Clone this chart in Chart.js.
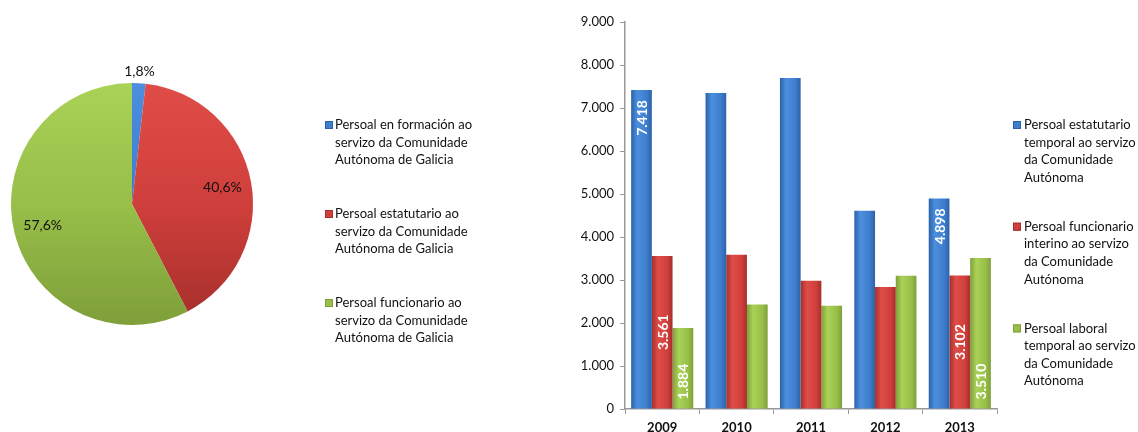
<!DOCTYPE html>
<html>
<head>
<meta charset="utf-8">
<script src="https://cdn.jsdelivr.net/npm/chart.js@4.4.1/dist/chart.umd.min.js"></script>
<style>
    body { margin: 0; background: #fff; width: 1138px; height: 432px; overflow: hidden; position: relative; }
    #pieChart { position: absolute; left: 0; top: 0; }
    #barChart { position: absolute; left: 570px; top: 0; }
</style>
</head>
<body>
<canvas id="pieChart" width="570" height="432"></canvas>
<canvas id="barChart" width="568" height="432"></canvas>
<script>
// pie: share of staff by type
const pieLabels = [
    ['Persoal en formación ao', 'servizo da Comunidade', 'Autónoma de Galicia'],
    ['Persoal estatutario ao', 'servizo da Comunidade', 'Autónoma de Galicia'],
    ['Persoal funcionario ao', 'servizo da Comunidade', 'Autónoma de Galicia']
];
const pieValues = [1.8, 40.6, 57.6];

// bars: temporary staff by year
const years = ['2009', '2010', '2011', '2012', '2013'];
const estatutarioTemporal = [7418, 7350, 7700, 4610, 4898];
const funcionarioInterino = [3561, 3590, 2980, 2840, 3102];
const laboralTemporal = [1884, 2430, 2400, 3100, 3510];
const barLabels = [
    ['Persoal estatutario', 'temporal ao servizo', 'da Comunidade', 'Autónoma'],
    ['Persoal funcionario', 'interino ao servizo', 'da Comunidade', 'Autónoma'],
    ['Persoal laboral', 'temporal ao servizo', 'da Comunidade', 'Autónoma']
];
const labelledYears = ['2009', '2013'];
const yMax = 9000;
const yStep = 1000;

const BLUE = { edge: '#2C62A8', mid: '#4C8FDE', base: '#3D7DCC' };
const RED = { edge: '#A52F2B', mid: '#E04D48', base: '#CF3F3B' };
const GREEN = { edge: '#7F9F3A', mid: '#AAD257', base: '#97BF49' };
const CAT_PCT = 0.835;

function fmt(v) {
    return String(v).replace(/\B(?=(\d{3})+(?!\d))/g, '.');
}

function pieFill(context) {
    const c = [BLUE, RED, GREEN][context.dataIndex];
    const a = context.chart.chartArea;
    if (!a) return c.base;
    const g = context.chart.ctx.createLinearGradient(0, a.top, 0, a.bottom);
    g.addColorStop(0, c.mid);
    g.addColorStop(0.5, c.base);
    g.addColorStop(1, c.edge);
    return g;
}

function barFill(c) {
    return function (context) {
        const chart = context.chart;
        const xs = chart.scales.x;
        if (!xs || !xs.width || context.dataIndex === undefined) return c.base;
        const catW = xs.width / years.length;
        const barW = catW * CAT_PCT / 3;
        const cx = xs.getPixelForValue(context.dataIndex) + (context.datasetIndex - 1) * barW;
        const g = chart.ctx.createLinearGradient(cx - barW / 2, 0, cx + barW / 2, 0);
        g.addColorStop(0, c.edge);
        g.addColorStop(0.3, c.mid);
        g.addColorStop(0.75, c.base);
        g.addColorStop(1, c.edge);
        return g;
    };
}

// legend with wrapped lines, drawn on the canvas
function drawLegend(ctx, items, colors, boxX, textX, firstY, groupGap, lineH) {
    ctx.save();
    ctx.font = '13px Lato';
    ctx.textBaseline = 'middle';
    ctx.textAlign = 'left';
    items.forEach((lines, i) => {
        const y = firstY + i * groupGap;
        const c = colors[i];
        ctx.fillStyle = c.base;
        ctx.fillRect(boxX, y - 4, 8, 8);
        ctx.strokeStyle = c.edge;
        ctx.lineWidth = 1;
        ctx.strokeRect(boxX + 0.5, y - 3.5, 7, 7);
        ctx.fillStyle = '#111';
        lines.forEach((t, k) => ctx.fillText(t, textX, y + k * lineH));
    });
    ctx.restore();
}

const pieLabelPlugin = {
    id: 'pieLabels',
    afterDatasetsDraw(chart) {
        const ctx = chart.ctx;
        const meta = chart.getDatasetMeta(0);
        ctx.save();
        ctx.font = '14px Lato';
        ctx.fillStyle = '#111';
        ctx.textAlign = 'center';
        ctx.textBaseline = 'middle';
        meta.data.forEach((arc, i) => {
            const mid = (arc.startAngle + arc.endAngle) / 2;
            const r = pieValues[i] < 5 ? arc.outerRadius + 12 : arc.outerRadius * 0.76;
            const txt = pieValues[i].toFixed(1).replace('.', ',') + '%';
            ctx.fillText(txt, arc.x + Math.cos(mid) * r, arc.y + Math.sin(mid) * r);
        });
        ctx.restore();
        drawLegend(ctx, pieLabels, [BLUE, RED, GREEN], 325, 335, 125, 89, 17.5);
    }
};

const barValuePlugin = {
    id: 'barValues',
    afterDatasetsDraw(chart) {
        const ctx = chart.ctx;
        ctx.save();
        ctx.font = 'bold 14px Lato';
        ctx.fillStyle = '#fff';
        ctx.textBaseline = 'middle';
        chart.data.datasets.forEach((ds, di) => {
            chart.getDatasetMeta(di).data.forEach((bar, i) => {
                if (!labelledYears.includes(years[i])) return;
                let y;
                if (ds.labelPos === 'end') {
                    y = bar.y + 10;
                    ctx.textAlign = 'right';
                } else if (ds.labelPos === 'center') {
                    y = (bar.y + bar.base) / 2;
                    ctx.textAlign = 'center';
                } else {
                    y = bar.base - 9;
                    ctx.textAlign = 'left';
                }
                ctx.save();
                ctx.translate(bar.x, y);
                ctx.rotate(-Math.PI / 2);
                ctx.fillText(fmt(ds.data[i]), 0, 1);
                ctx.restore();
            });
        });
        ctx.restore();
        drawLegend(ctx, barLabels, [BLUE, RED, GREEN], 443, 454, 125, 101.7, 17.6);
    }
};

new Chart(document.getElementById('pieChart').getContext('2d'), {
    type: 'pie',
    data: {
        labels: pieLabels.map(l => l.join(' ')),
        datasets: [{
            data: pieValues,
            backgroundColor: pieFill,
            borderWidth: 0
        }]
    },
    options: {
        responsive: false,
        animation: false,
        layout: { padding: { left: 11, top: 83, right: 317, bottom: 107 } },
        plugins: {
            legend: { display: false },
            tooltip: { enabled: false }
        }
    },
    plugins: [pieLabelPlugin]
});

new Chart(document.getElementById('barChart').getContext('2d'), {
    type: 'bar',
    data: {
        labels: years,
        datasets: [
            { label: barLabels[0].join(' '), data: estatutarioTemporal, backgroundColor: barFill(BLUE), labelPos: 'end' },
            { label: barLabels[1].join(' '), data: funcionarioInterino, backgroundColor: barFill(RED), labelPos: 'center' },
            { label: barLabels[2].join(' '), data: laboralTemporal, backgroundColor: barFill(GREEN), labelPos: 'base' }
        ]
    },
    options: {
        responsive: false,
        animation: false,
        categoryPercentage: CAT_PCT,
        barPercentage: 1,
        layout: { padding: { top: 22, right: 141, left: 0, bottom: 0 } },
        plugins: {
            legend: { display: false },
            tooltip: { enabled: false }
        },
        scales: {
            x: {
                grid: { drawOnChartArea: false, drawTicks: true, tickLength: 5, offset: true, color: '#999' },
                border: { color: '#999', width: 1.5 },
                ticks: { font: { family: 'Lato', size: 13, weight: 'bold' }, color: '#111', padding: 6 },
                afterFit(s) { s.height = 23; }
            },
            y: {
                min: 0,
                max: yMax,
                ticks: { stepSize: yStep, callback: v => fmt(v), font: { family: 'Lato', size: 13 }, color: '#111', padding: 6 },
                grid: { drawOnChartArea: false, tickLength: 5, color: '#999' },
                border: { color: '#999', width: 1.5 },
                afterFit(s) { s.width = 55; }
            }
        }
    },
    plugins: [barValuePlugin]
});
</script>
</body>
</html>
